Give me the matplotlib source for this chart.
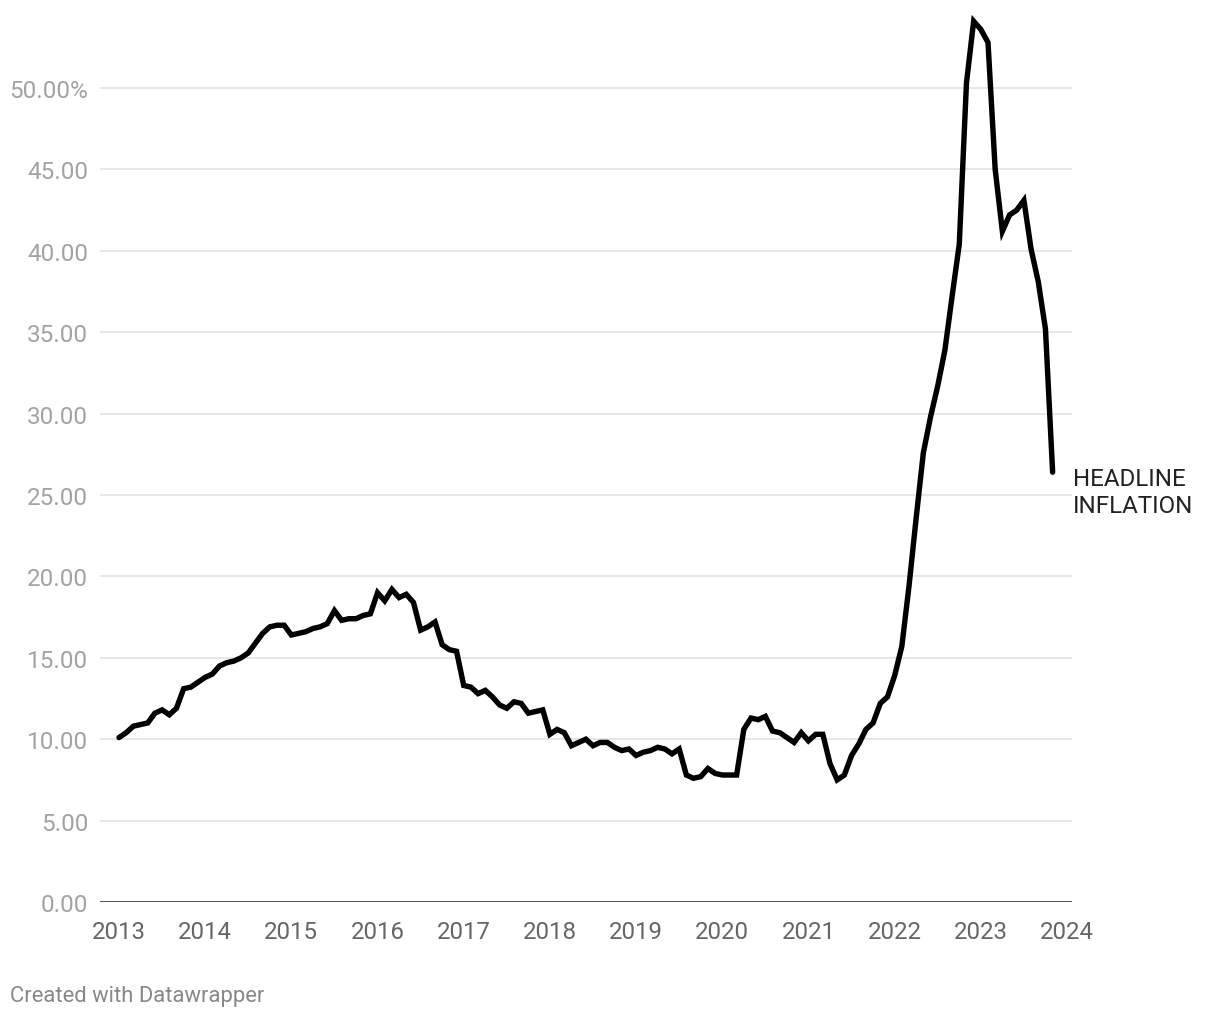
import matplotlib
matplotlib.use("Agg")
import matplotlib.pyplot as plt
import numpy as np

plt.rcParams['font.family'] = ['Roboto', 'DejaVu Sans']

start_year = 2013
inflation = [
    # 2013
    10.1, 10.4, 10.8, 10.9, 11.0, 11.6, 11.8, 11.5, 11.9, 13.1, 13.2, 13.5,
    # 2014
    13.8, 14.0, 14.5, 14.7, 14.8, 15.0, 15.3, 15.9, 16.5, 16.9, 17.0, 17.0,
    # 2015
    16.4, 16.5, 16.6, 16.8, 16.9, 17.1, 17.9, 17.3, 17.4, 17.4, 17.6, 17.7,
    # 2016
    19.0, 18.5, 19.2, 18.7, 18.9, 18.4, 16.7, 16.9, 17.2, 15.8, 15.5, 15.4,
    # 2017
    13.3, 13.2, 12.8, 13.0, 12.6, 12.1, 11.9, 12.3, 12.2, 11.6, 11.7, 11.8,
    # 2018
    10.3, 10.6, 10.4, 9.6, 9.8, 10.0, 9.6, 9.8, 9.8, 9.5, 9.3, 9.4,
    # 2019
    9.0, 9.2, 9.3, 9.5, 9.4, 9.1, 9.4, 7.8, 7.6, 7.7, 8.2, 7.9,
    # 2020
    7.8, 7.8, 7.8, 10.6, 11.3, 11.2, 11.4, 10.5, 10.4, 10.1, 9.8, 10.4,
    # 2021
    9.9, 10.3, 10.3, 8.5, 7.5, 7.8, 9.0, 9.7, 10.6, 11.0, 12.2, 12.6,
    # 2022
    13.9, 15.7, 19.4, 23.6, 27.6, 29.8, 31.7, 33.9, 37.2, 40.4, 50.3, 54.1,
    # 2023
    53.6, 52.8, 45.0, 41.2, 42.2, 42.5, 43.1, 40.1, 38.1, 35.2, 26.4,
]
y_ticks = [0, 5, 10, 15, 20, 25, 30, 35, 40, 45, 50]
y_labels = ["0.00", "5.00", "10.00", "15.00", "20.00", "25.00", "30.00",
            "35.00", "40.00", "45.00", "50.00%"]
x_ticks = list(range(2013, 2025))
series_label = "HEADLINE\nINFLATION"

x = start_year + np.arange(len(inflation)) / 12.0

W, H = 1220, 1020
fig = plt.figure(figsize=(W / 100, H / 100), dpi=100)

px_per_year = (1067 - 119) / 11.0
xl = 2013 - (119 - 100) / px_per_year
xr = 2013 + (1072 - 119) / px_per_year
px_per_unit = (903 - 89) / 50.0
ytop = 55.0
ax = fig.add_axes([100 / W, (H - 903) / H, (1072 - 100) / W, ytop * px_per_unit / H])
ax.set_xlim(xl, xr)
ax.set_ylim(0, ytop)

for t in y_ticks[1:]:
    ax.axhline(t, color="#e3e3e3", lw=1.2, zorder=1)
ax.axhline(0, color="#1a1a1a", lw=1.8, zorder=2)

ax.plot(x, inflation, color="#000000", lw=3.9, solid_joinstyle="miter",
        solid_capstyle="round", zorder=3, clip_on=False)

for s in ax.spines.values():
    s.set_visible(False)
ax.set_yticks(y_ticks)
ax.set_yticklabels(y_labels)
ax.set_xticks(x_ticks)
ax.set_xticklabels([str(v) for v in x_ticks])
ax.tick_params(axis="y", length=0, pad=8.5, labelsize=17.5, labelcolor="#a3a3a3")
ax.tick_params(axis="x", length=0, pad=13, labelsize=17.3, labelcolor="#666666")

fig.text(1073 / W, 1 - 493 / H, series_label, fontsize=17.4,
         color="#222222", ha="left", va="center", linespacing=1.24)

fig.text(10 / W, 1 - 997 / H, "Created with Datawrapper", fontsize=15.8,
         color="#888888", ha="left", va="center")

fig.savefig("out.png", dpi=100, facecolor="white")
